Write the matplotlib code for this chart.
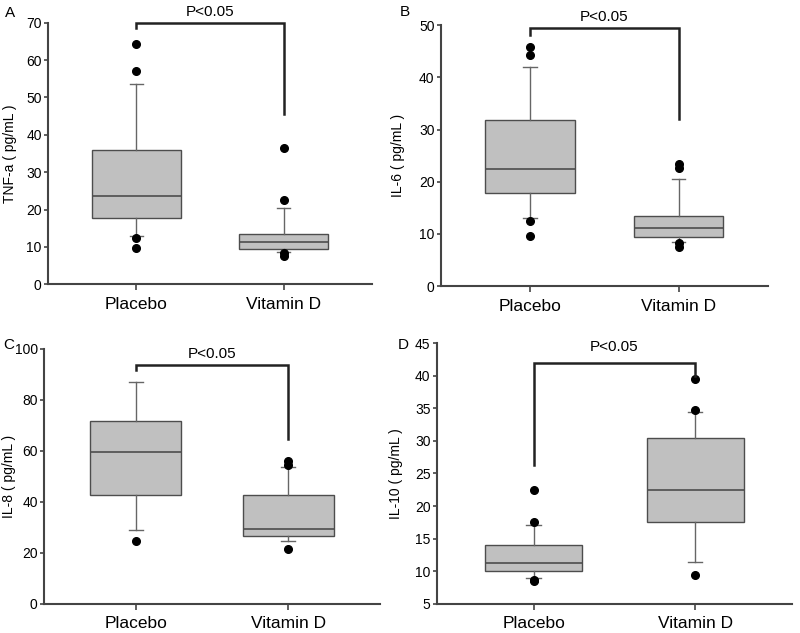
import matplotlib
matplotlib.use("Agg")
import matplotlib.pyplot as plt

plt.rcParams["font.family"] = ["Liberation Sans", "DejaVu Sans"]

groups = ["Placebo", "Vitamin D"]

# whislo, q1, med, q3, whishi, fliers
tnf_placebo = [13.0, 17.8, 23.5, 36.0, 53.5, [64.3, 57.0, 12.3, 9.6]]
tnf_vitd = [8.5, 9.5, 11.2, 13.5, 20.5, [36.5, 22.5, 8.3, 7.5]]
il6_placebo = [13.0, 17.8, 22.5, 31.8, 42.0, [45.8, 44.3, 12.5, 9.6]]
il6_vitd = [8.5, 9.5, 11.2, 13.5, 20.5, [23.5, 22.6, 8.3, 7.5]]
il8_placebo = [29.0, 42.5, 59.5, 71.5, 87.0, [24.8]]
il8_vitd = [24.5, 26.8, 29.5, 42.5, 53.5, [56.0, 54.5, 21.5]]
il10_placebo = [8.9, 10.0, 11.2, 14.0, 17.1, [22.5, 17.5, 8.7, 8.5]]
il10_vitd = [11.5, 17.5, 22.5, 30.5, 34.5, [39.5, 34.8, 9.5]]

panels = [
    ("A", "TNF-a ( pg/mL )", tnf_placebo, tnf_vitd, (0, 70), 10, (70, 68.5, 45.5)),
    ("B", "IL-6 ( pg/mL )", il6_placebo, il6_vitd, (0, 50), 10, (49.5, 48.2, 32.0)),
    ("C", "IL-8 ( pg/mL )", il8_placebo, il8_vitd, (0, 100), 20, (93.5, 91.5, 64.5)),
    ("D", "IL-10 ( pg/mL )", il10_placebo, il10_vitd, (5, 45), 5, (42.0, 26.3, 40.0)),
]

# axes boxes in figure fraction, y-label offset (px), panel letter position (px), P-text offset (pt)
positions = [
    [0.060, 0.551, 0.405, 0.413],
    [0.551, 0.548, 0.409, 0.412],
    [0.055, 0.046, 0.420, 0.403],
    [0.546, 0.046, 0.444, 0.412],
]
label_off = [31, 36, 28, 34]
letter_xy = [(10, 13), (405, 12), (9, 345), (403, 345)]
p_off = [8, 8, 8.5, 11]

fig = plt.figure(figsize=(8, 6.33), dpi=100)

for i, ((letter, ylabel, pl, vd, ylim, step, bracket), pos) in enumerate(zip(panels, positions)):
    ax = fig.add_axes(pos)
    stats = []
    for name, s in zip(groups, [pl, vd]):
        stats.append(dict(label=name, whislo=s[0], q1=s[1], med=s[2], q3=s[3],
                          whishi=s[4], fliers=s[5]))
    ax.bxp(stats, positions=[1, 2], widths=0.6, capwidths=0.09, patch_artist=True,
           boxprops=dict(facecolor="#c0c0c0", edgecolor="#4d4d4d", linewidth=1.0),
           medianprops=dict(color="#4d4d4d", linewidth=1.2),
           whiskerprops=dict(color="#666666", linewidth=1.0),
           capprops=dict(color="#666666", linewidth=1.0),
           flierprops=dict(marker="o", markerfacecolor="black", markeredgecolor="black",
                           markersize=5.5))
    ax.set_xlim(0.4, 2.6)
    ax.set_ylim(*ylim)
    ax.set_yticks(range(ylim[0], ylim[1] + 1, step))
    ax.set_xticks([1, 2])
    ax.set_xticklabels(groups, fontsize=12.5)
    ax.tick_params(axis="y", labelsize=10, length=3, width=1.2, color="#444444", pad=1.5)
    ax.tick_params(axis="x", length=4, width=1.2, color="#444444", pad=5)
    for side in ["top", "right"]:
        ax.spines[side].set_visible(False)
    for side in ["left", "bottom"]:
        ax.spines[side].set_color("#444444")
        ax.spines[side].set_linewidth(1.5)
    ax.set_ylabel(ylabel, fontsize=10)
    ax.yaxis.set_label_coords(-label_off[i] / (pos[2] * 800), 0.5)

    top, left_end, right_end = bracket
    ax.plot([1, 1, 2, 2], [left_end, top, top, right_end], color="#222222",
            linewidth=1.8, clip_on=False, solid_joinstyle="miter")
    ax.annotate("P<0.05", xy=(1.5, top), xytext=(0, p_off[i]), textcoords="offset points",
                ha="center", va="center", fontsize=11, annotation_clip=False)
    lx, ly = letter_xy[i]
    fig.text(lx / 800, 1 - ly / 633, letter, fontsize=11, ha="center", va="center")

fig.savefig("out.png", dpi=100)
